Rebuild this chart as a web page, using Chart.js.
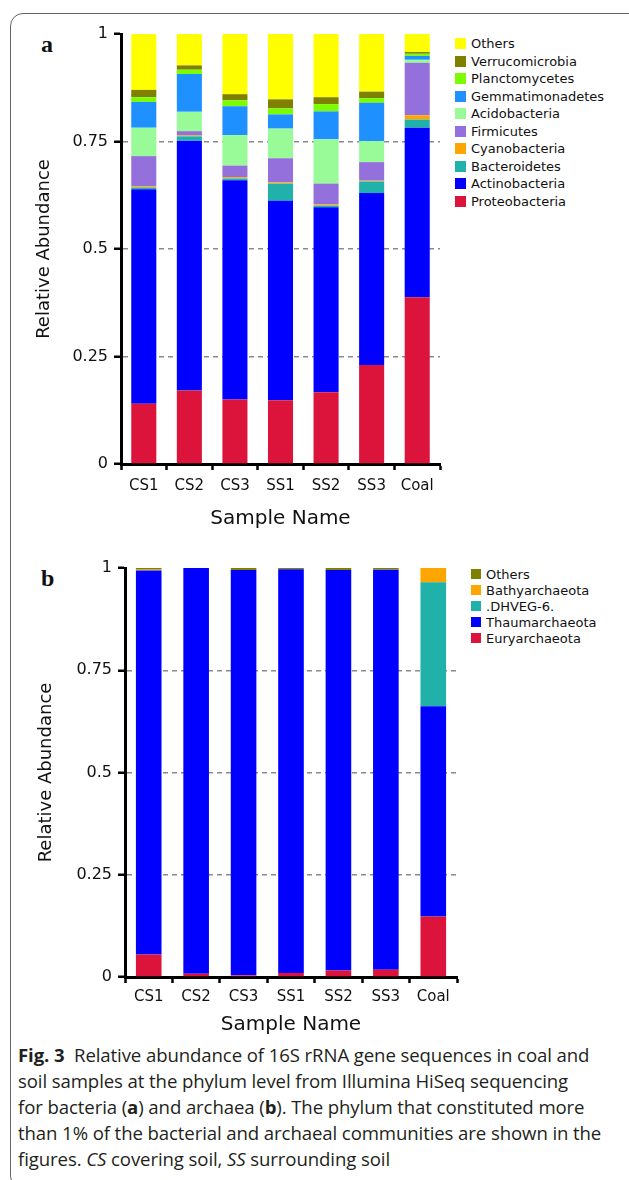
<!DOCTYPE html>
<html>
<head>
<meta charset="utf-8">
<script src="https://cdn.jsdelivr.net/npm/chart.js@4.4.0/dist/chart.umd.min.js"></script>
<style>
    body { margin: 0; width: 629px; height: 1180px; position: relative; overflow: hidden; background: #fff; font-family: "DejaVu Sans", sans-serif; color: #111; }
    .frame { position: absolute; left: 10px; top: 13px; width: 640px; height: 1176px; border: 1px solid #666; border-radius: 13px; box-sizing: border-box; }
    .tag { position: absolute; font-family: "Liberation Serif", serif; font-weight: bold; font-size: 24px; line-height: 24px; }
    canvas { position: absolute; left: 0; }
    .legend { position: absolute; font-size: 13px; }
    .legend .row { display: flex; align-items: center; white-space: nowrap; }
    .legend .sw { display: inline-block; margin-right: 5px; }
    .caption { position: absolute; left: 18px; top: 1042px; font-family: "Open Sans", sans-serif; font-size: 18.6px; line-height: 26px; white-space: nowrap; color: #231f20; letter-spacing: -0.1px; }
</style>
</head>
<body>
<div class="frame"></div>
<div class="tag" style="left:41px;top:32px">a</div>
<div class="tag" style="left:41px;top:566px">b</div>
<canvas id="chartA" width="450" height="540" style="top:0"></canvas>
<canvas id="chartB" width="470" height="500" style="top:540px"></canvas>
<div class="legend" id="legendA" style="left:455px;top:35px"></div>
<div class="legend" id="legendB" style="left:471px;top:566px"></div>
<div class="caption">
    <b>Fig. 3</b>&nbsp; Relative abundance of 16S rRNA gene sequences in coal and<br>
    soil samples at the phylum level from Illumina HiSeq sequencing<br>
    for bacteria (<b>a</b>) and archaea (<b>b</b>). The phylum that constituted more<br>
    than 1% of the bacterial and archaeal communities are shown in the<br>
    figures. <i>CS</i> covering soil, <i>SS</i> surrounding soil
</div>

<script>
// muestras
const samples = ['CS1', 'CS2', 'CS3', 'SS1', 'SS2', 'SS3', 'Coal'];
const yTicks = [0, 0.25, 0.5, 0.75, 1];
const yTickLabels = ['0', '0.25', '0.5', '0.75', '1'];

// (a) bacterias
const proteobacteria   = [0.140, 0.171, 0.150, 0.148, 0.167, 0.230, 0.388];
const actinobacteria   = [0.499, 0.581, 0.510, 0.464, 0.430, 0.400, 0.394];
const bacteroidetes    = [0.004, 0.010, 0.004, 0.040, 0.004, 0.027, 0.019];
const cyanobacteria    = [0.003, 0.002, 0.003, 0.003, 0.003, 0.002, 0.010];
const firmicutes       = [0.070, 0.010, 0.027, 0.056, 0.048, 0.043, 0.122];
const acidobacteria    = [0.066, 0.045, 0.071, 0.069, 0.103, 0.049, 0.007];
const gemmatimonadetes = [0.060, 0.088, 0.067, 0.033, 0.065, 0.089, 0.009];
const planctomycetes   = [0.011, 0.010, 0.014, 0.014, 0.017, 0.011, 0.005];
const verrucomicrobia  = [0.017, 0.010, 0.014, 0.021, 0.016, 0.015, 0.004];
const othersBact       = [0.130, 0.073, 0.140, 0.152, 0.147, 0.134, 0.042];

// (b) arqueas
const euryarchaeota  = [0.055, 0.008, 0.004, 0.010, 0.016, 0.018, 0.148];
const thaumarchaeota = [0.939, 0.992, 0.991, 0.987, 0.979, 0.978, 0.514];
const dhveg6         = [0, 0, 0, 0, 0, 0, 0.303];
const bathyarchaeota = [0.002, 0, 0, 0, 0, 0, 0.035];
const othersArch     = [0.004, 0, 0.005, 0.003, 0.005, 0.004, 0];

const seriesA = [
    { label: 'Proteobacteria', data: proteobacteria, color: '#DC143C' },
    { label: 'Actinobacteria', data: actinobacteria, color: '#0000FF' },
    { label: 'Bacteroidetes', data: bacteroidetes, color: '#20B2AA' },
    { label: 'Cyanobacteria', data: cyanobacteria, color: '#FFA500' },
    { label: 'Firmicutes', data: firmicutes, color: '#9370DB' },
    { label: 'Acidobacteria', data: acidobacteria, color: '#98FB98' },
    { label: 'Gemmatimonadetes', data: gemmatimonadetes, color: '#1E90FF' },
    { label: 'Planctomycetes', data: planctomycetes, color: '#7CFC00' },
    { label: 'Verrucomicrobia', data: verrucomicrobia, color: '#808000' },
    { label: 'Others', data: othersBact, color: '#FFFF00' }
];

const seriesB = [
    { label: 'Euryarchaeota', data: euryarchaeota, color: '#DC143C' },
    { label: 'Thaumarchaeota', data: thaumarchaeota, color: '#0000FF' },
    { label: '.DHVEG-6.', data: dhveg6, color: '#20B2AA' },
    { label: 'Bathyarchaeota', data: bathyarchaeota, color: '#FFA500' },
    { label: 'Others', data: othersArch, color: '#808000' }
];

Chart.defaults.font.family = '"DejaVu Sans", sans-serif';
Chart.defaults.color = '#111';

function pintarLeyenda(id, series, rowH, box) {
    const el = document.getElementById(id);
    el.innerHTML = series.slice().reverse().map(s =>
        `<div class="row" style="height:${rowH}px"><span class="sw" style="width:${box}px;height:${box}px;background:${s.color}"></span>${s.label}</div>`
    ).join('');
}

function pintarGrafico(id, series, cfg) {
    const ctx = document.getElementById(id);
    return new Chart(ctx, {
        type: 'bar',
        data: {
            labels: samples,
            datasets: series.map(s => ({
                label: s.label,
                data: s.data,
                backgroundColor: s.color,
                borderWidth: 0,
                barPercentage: cfg.barPct,
                categoryPercentage: 1
            }))
        },
        options: {
            responsive: false,
            animation: false,
            devicePixelRatio: 1,
            layout: { padding: { top: cfg.top, right: cfg.right, left: 0, bottom: 0 } },
            plugins: { legend: { display: false }, tooltip: { enabled: false } },
            scales: {
                x: {
                    stacked: true,
                    ticks: { font: { size: 15 }, padding: cfg.xPad, autoSkip: false, maxRotation: 0 },
                    grid: { drawOnChartArea: false, offset: true, tickColor: '#000', tickLength: 6, tickWidth: 2.5 },
                    border: { color: '#000', width: 3 },
                    title: { display: true, text: 'Sample Name', font: { size: 20 }, padding: { top: 0, bottom: cfg.xTitlePad } },
                    afterFit: s => { s.height = cfg.xHeight; }
                },
                y: {
                    stacked: true,
                    min: 0,
                    max: 1,
                    afterBuildTicks: s => { s.ticks = yTicks.map(v => ({ value: v })); },
                    ticks: {
                        font: { size: 16 },
                        padding: 6,
                        callback: v => yTickLabels[yTicks.indexOf(v)]
                    },
                    grid: {
                        color: c => (c.tick && (c.tick.value === 0 || c.tick.value === 1)) ? 'rgba(0,0,0,0)' : '#8a8a8a',
                        lineWidth: 1.5,
                        tickColor: '#000',
                        tickLength: 7,
                        tickWidth: 2.5,
                        tickBorderDash: []
                    },
                    border: { color: '#000', width: 3, dash: [5, 4] },
                    title: { display: true, text: 'Relative Abundance', font: { size: 18 }, padding: { top: cfg.yTitlePad, bottom: 0 } },
                    afterFit: s => { s.width = cfg.yWidth; }
                }
            }
        }
    });
}

pintarLeyenda('legendA', seriesA, 17.5, 11);
pintarLeyenda('legendB', seriesB, 16, 10);

pintarGrafico('chartA', seriesA, {
    barPct: 0.55, top: 34, right: 10, yWidth: 121, xHeight: 76, xPad: 7, xTitlePad: 9, yTitlePad: 34
});

pintarGrafico('chartB', seriesB, {
    barPct: 0.54, top: 28, right: 13, yWidth: 125, xHeight: 63, xPad: 5, xTitlePad: 3, yTitlePad: 36
});
</script>
</body>
</html>
